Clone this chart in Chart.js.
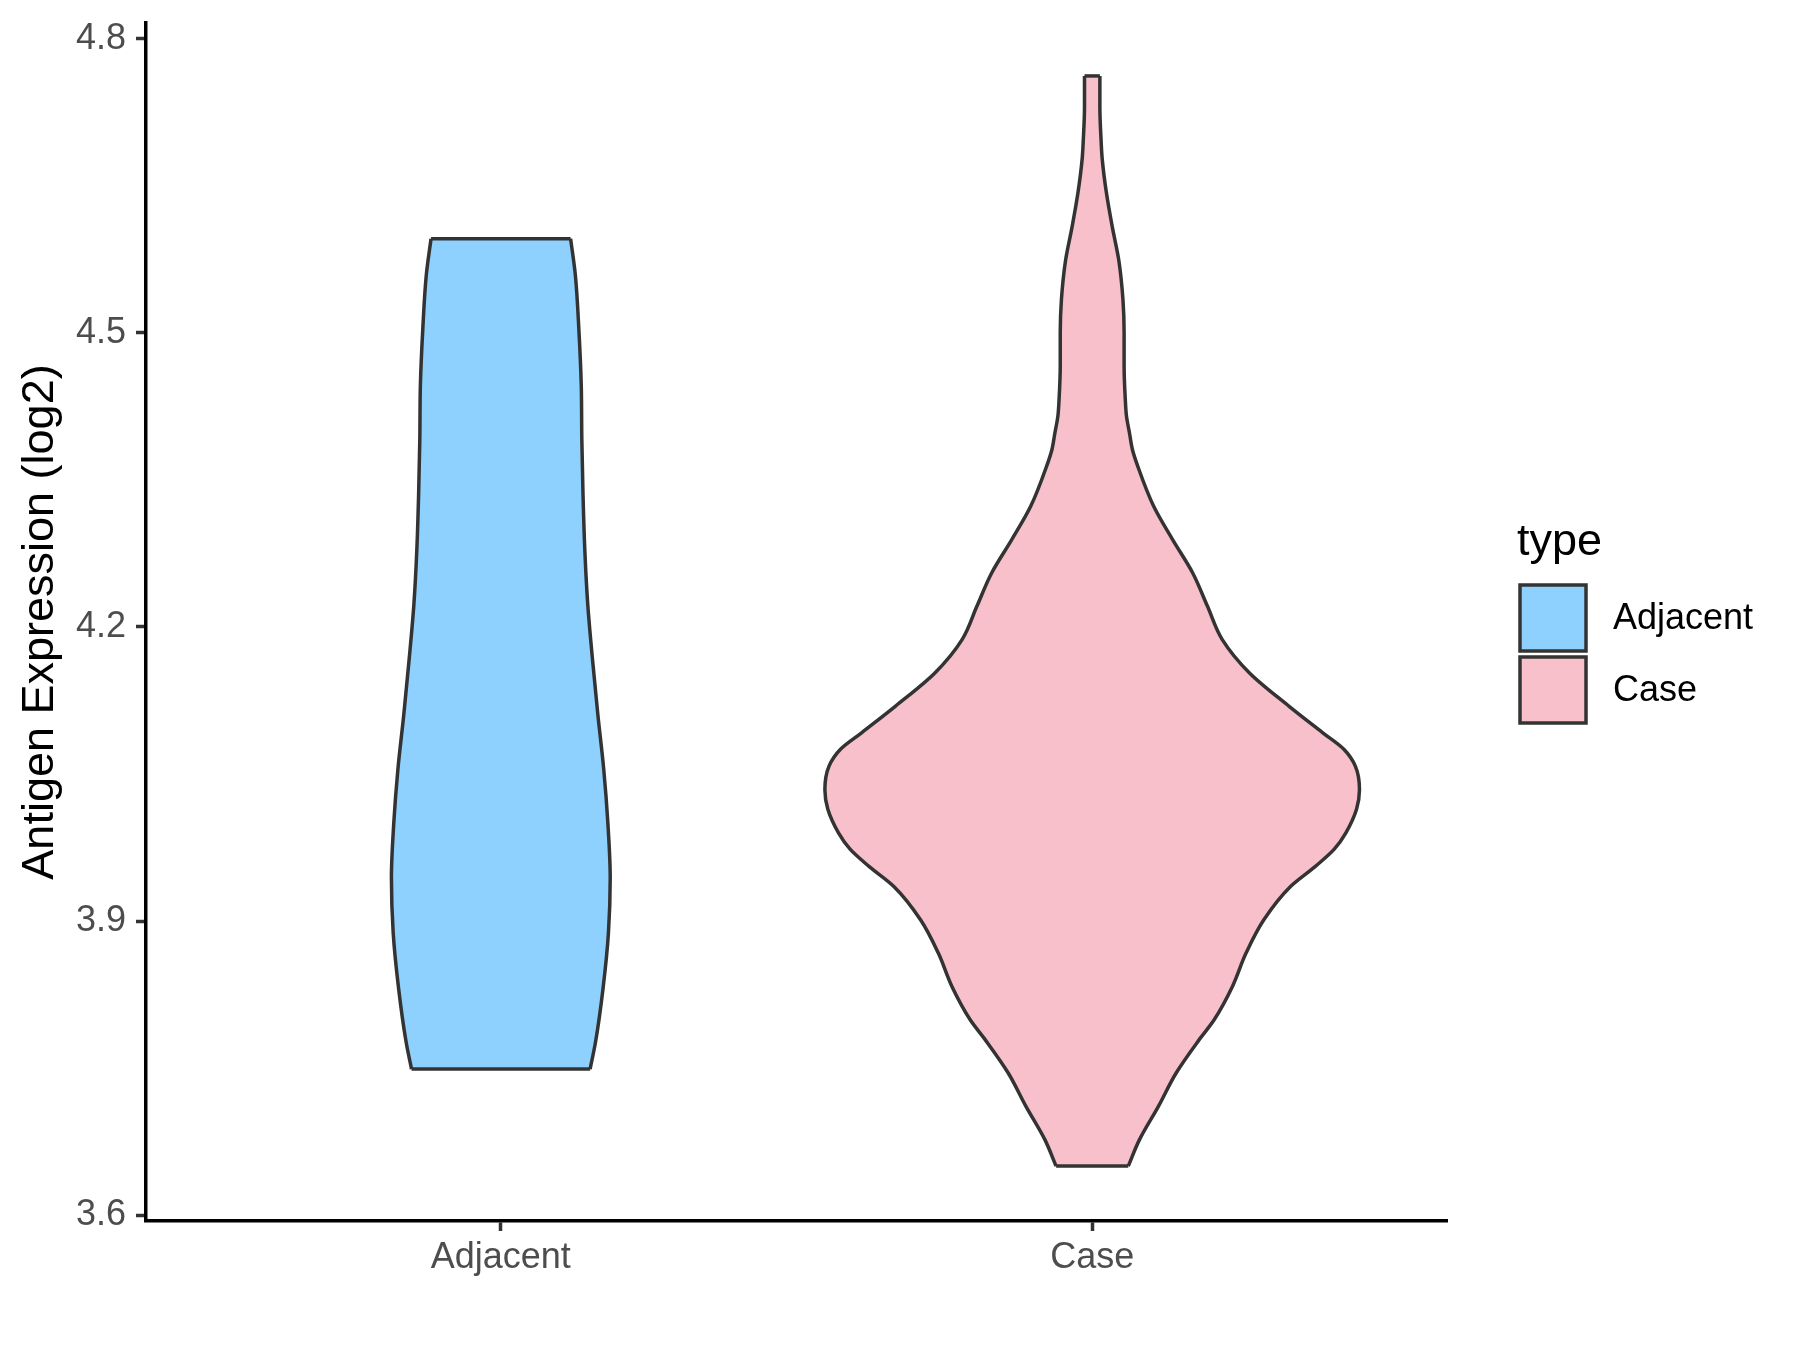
<!DOCTYPE html>
<html>
<head>
<meta charset="utf-8">
<script src="https://cdn.jsdelivr.net/npm/chart.js@4"></script>
<style>
  html, body { margin: 0; padding: 0; background: #fff; }
</style>
</head>
<body>
<canvas id="violinChart" width="1800" height="1350"></canvas>
<script>
const categories = ["Adjacent", "Case"];
const fillColors = ["#8FD1FE", "#F7C0CB"];
const yTicks = [3.6, 3.9, 4.2, 4.5, 4.8];

// violin outlines: expression value and half width (in category units)
const adjacentY = [3.749, 3.776, 3.832, 3.888, 3.944, 4.000, 4.055, 4.111, 4.167, 4.223, 4.279, 4.335, 4.391, 4.447, 4.503, 4.559, 4.596];
const adjacentHalf = [0.151, 0.160, 0.173, 0.182, 0.185, 0.181, 0.174, 0.164, 0.155, 0.147, 0.142, 0.139, 0.137, 0.136, 0.132, 0.126, 0.118];

const caseY = [3.650, 3.677, 3.711, 3.745, 3.779, 3.799, 3.833, 3.867, 3.901, 3.935, 3.956, 3.973, 3.990, 4.014, 4.034, 4.058, 4.075, 4.092, 4.119, 4.153, 4.187, 4.221, 4.255, 4.289, 4.323, 4.364, 4.381, 4.398, 4.415, 4.432, 4.466, 4.500, 4.534, 4.574, 4.608, 4.643, 4.677, 4.697, 4.730, 4.762];
const caseHalf = [0.061, 0.080, 0.112, 0.142, 0.181, 0.206, 0.237, 0.260, 0.290, 0.335, 0.378, 0.409, 0.429, 0.447, 0.452, 0.445, 0.426, 0.390, 0.333, 0.266, 0.220, 0.195, 0.170, 0.136, 0.104, 0.077, 0.068, 0.063, 0.058, 0.056, 0.054, 0.054, 0.052, 0.045, 0.034, 0.024, 0.017, 0.015, 0.013, 0.013];

const outlineColor = "#333333";
const fontFamily = "'Liberation Sans', Arial, sans-serif";

function violinDatasets(pos, ys, half, color) {
  const n = ys.length - 1;
  const base = { borderColor: outlineColor, borderWidth: 3.5, pointRadius: 0, order: 0 };
  return [
    { ...base, data: ys.map((y, i) => ({ x: pos - half[i], y })), fill: false, cubicInterpolationMode: "monotone" },
    { ...base, data: ys.map((y, i) => ({ x: pos + half[i], y })), fill: "-1", backgroundColor: color, cubicInterpolationMode: "monotone", order: 1 },
    { ...base, data: [{ x: pos - half[0], y: ys[0] }, { x: pos + half[0], y: ys[0] }], fill: false, tension: 0 },
    { ...base, data: [{ x: pos - half[n], y: ys[n] }, { x: pos + half[n], y: ys[n] }], fill: false, tension: 0 }
  ];
}

const datasets = [
  ...violinDatasets(1, adjacentY, adjacentHalf, fillColors[0]),
  ...violinDatasets(2, caseY, caseHalf, fillColors[1])
];

// ggplot-style legend on the right
const typeLegend = {
  id: "typeLegend",
  afterDraw(chart) {
    const ctx = chart.ctx;
    ctx.save();
    ctx.fillStyle = "#000";
    ctx.font = "45px " + fontFamily;
    ctx.textBaseline = "alphabetic";
    ctx.textAlign = "left";
    ctx.fillText("type", 1517, 555);
    ctx.font = "36px " + fontFamily;
    ctx.textBaseline = "middle";
    categories.forEach((name, i) => {
      const top = 585 + i * 72;
      ctx.fillStyle = fillColors[i];
      ctx.fillRect(1520, top, 66, 66);
      ctx.strokeStyle = outlineColor;
      ctx.lineWidth = 3.5;
      ctx.strokeRect(1520, top, 66, 66);
      ctx.fillStyle = "#000";
      ctx.fillText(name, 1613, top + 34);
    });
    ctx.restore();
  }
};

new Chart(document.getElementById("violinChart"), {
  type: "line",
  data: { datasets: datasets },
  options: {
    responsive: false,
    animation: false,
    indexAxis: "y",
    layout: { padding: { left: 0, top: 23, right: 353, bottom: 0 } },
    plugins: { legend: { display: false }, tooltip: { enabled: false } },
    scales: {
      x: {
        type: "linear",
        min: 0.4,
        max: 2.6,
        afterFit: (scale) => { scale.height = 129; },
        afterBuildTicks: (scale) => { scale.ticks = [1, 2].map(v => ({ value: v })); },
        grid: { drawOnChartArea: false, drawTicks: true, tickLength: 10, tickWidth: 3.5, tickColor: outlineColor },
        border: { display: true, color: "#000", width: 3.5 },
        ticks: {
          padding: 5,
          color: "#4D4D4D",
          font: { family: fontFamily, size: 36 },
          callback: (v) => categories[v - 1]
        }
      },
      y: {
        type: "linear",
        min: 3.594,
        max: 4.816,
        afterFit: (scale) => {
          scale.width = 146;
          scale.paddingTop = 0;
          scale.paddingBottom = 0;
        },
        afterBuildTicks: (scale) => { scale.ticks = yTicks.map(v => ({ value: v })); },
        grid: { drawOnChartArea: false, drawTicks: true, tickLength: 10, tickWidth: 3.5, tickColor: outlineColor },
        border: { display: true, color: "#000", width: 3.5 },
        ticks: {
          padding: 10,
          color: "#4D4D4D",
          font: { family: fontFamily, size: 36 },
          callback: (v) => v.toFixed(1)
        },
        title: {
          display: true,
          text: "Antigen Expression (log2)",
          color: "#000",
          font: { family: fontFamily, size: 45 },
          padding: { top: 14, bottom: 0 }
        }
      }
    }
  },
  plugins: [typeLegend]
});
</script>
</body>
</html>
